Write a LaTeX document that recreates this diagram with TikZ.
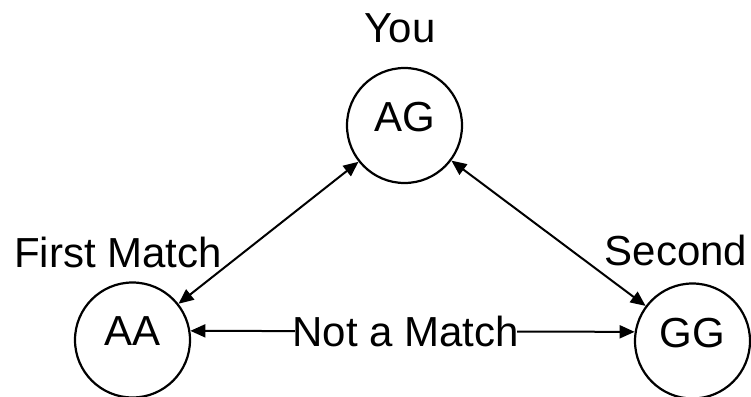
\documentclass[tikz,border=0pt]{standalone}
\usepackage{fontspec}
\setmainfont{Liberation Sans}
\usetikzlibrary{arrows.meta,automata}

\begin{document}
\begin{tikzpicture}[x=1pt,y=-1pt,>={Triangle[length=15pt,width=13pt]},
  every node/.style={font=\fontsize{42}{50}\selectfont},
  every state/.style={draw,line width=2.2pt,minimum size=115pt,inner sep=0pt,text depth=17pt},
  tag/.style={anchor=base,inner sep=0pt},
  link/.style={<->,line width=2pt}]
  \useasboundingbox (0,0) rectangle (751,396);
  \node[state] (AG) at (404.5,125.5) {AG};
  \node[state] (AA) at (132.5,340) {AA};
  \node[state] (GG) at (692.5,341) {GG};
  \node[tag] (you) at (400,42) {You};
  \node[tag] (first) at (118,267) {First Match};
  \node[tag] (second) at (676,265) {Second};
  \path (AG) edge [link] (AA)
  (AG) edge [link] (GG)
  (AA.9) edge [link] node [pos=0.485,fill=white,inner ysep=0pt,inner xsep=-2pt] (nomatch) {Not a Match} (GG.171)
  ;
\end{tikzpicture}
\end{document}
